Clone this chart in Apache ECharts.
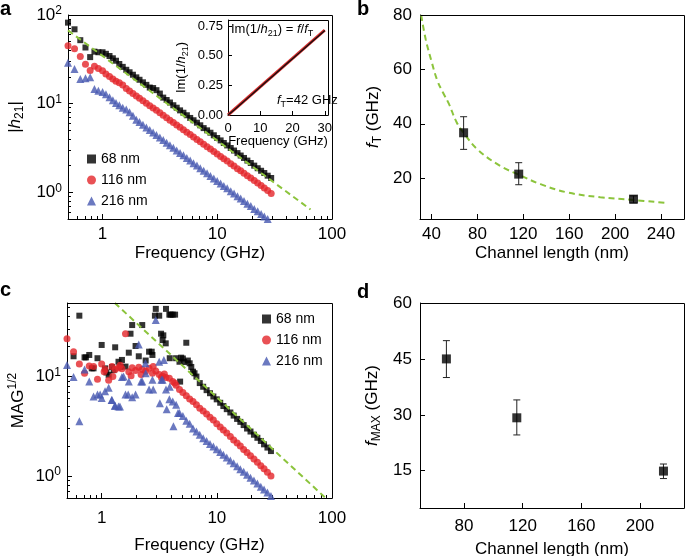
<!DOCTYPE html>
<html>
<head>
<meta charset="utf-8">
<script src="https://cdn.jsdelivr.net/npm/echarts@6/dist/echarts.min.js"></script>
<style>
  html, body { margin: 0; padding: 0; background: #fff; }
  #chart { width: 685px; height: 556px; }
</style>
</head>
<body>
<div id="chart"></div>
<script>
const FONT = '"Liberation Sans", Arial, sans-serif';
const BLACK = '#000000';
const RED = '#e3262a';
const BLUE = '#4658b0';
const GREEN = '#8cc43c';

const LEGEND_NAMES = ['68 nm', '116 nm', '216 nm'];

// frequency grid (GHz) shared by panels a and c
const FREQ = [0.5, 0.57, 0.64, 0.71, 0.78, 0.85, 0.92,
  1.0, 1.07, 1.15, 1.23, 1.31, 1.4, 1.5, 1.61, 1.72, 1.84, 1.97, 2.1, 2.25, 2.41, 2.58, 2.76, 2.95,
  3.16, 3.38, 3.62, 3.87, 4.14, 4.43, 4.74, 5.07, 5.43, 5.81, 6.21, 6.65, 7.11, 7.61, 8.15, 8.72,
  9.33, 9.98, 10.7, 11.4, 12.2, 13.1, 14.0, 15.0, 16.0, 17.1, 18.3, 19.6, 21.0, 22.5, 24.1, 25.7, 27.5, 29.5];

// panel a: |h21|
const A_68 = [82, 69, 52, 43, 33.5, 38.6, 38,
  38, 36.5, 34.5, 32.5, 30.5, 28, 26, 24.1, 22.6, 21.2, 19.8, 18.6, 17.4, 16.3, 15.2, 15, 14.2,
  13, 11.7, 11.0, 10.3, 9.6, 9.0, 8.4, 7.9, 7.4, 6.9, 6.5, 6.1, 5.7, 5.3, 5.0, 4.7,
  4.4, 4.1, 3.85, 3.6, 3.38, 3.16, 2.96, 2.77, 2.6, 2.44, 2.28, 2.14, 2.0, 1.87, 1.75, 1.65, 1.54, 1.45];
const A_116 = [45, 41.6, 34, 27.8, 23.7, 26.4, 25,
  23.5, 21.6, 20.2, 19.0, 17.9, 17.2, 16.2, 14.8, 13.9, 13.0, 12.2, 11.5, 10.8, 10.1, 9.5, 8.95, 8.4,
  7.9, 7.4, 6.95, 6.5, 6.14, 5.76, 5.41, 5.08, 4.77, 4.48, 4.21, 3.95, 3.71, 3.48, 3.27, 3.07,
  2.88, 2.71, 2.54, 2.39, 2.25, 2.10, 1.98, 1.85, 1.75, 1.64, 1.54, 1.45, 1.36, 1.27, 1.19, 1.12, 1.05, 0.97];
const A_216 = [29, 24.6, 19, 19.4, 19.9, 14.6, 14,
  13.5, 12.8, 11.8, 10.9, 10.2, 9.6, 9.0, 8.6, 8.0, 7.3, 6.6, 6.2, 5.8, 5.4, 5.05, 4.73, 4.43,
  4.14, 3.88, 3.63, 3.40, 3.18, 2.97, 2.78, 2.61, 2.44, 2.28, 2.13, 2.0, 1.87, 1.75, 1.64, 1.53,
  1.43, 1.34, 1.26, 1.18, 1.11, 1.03, 0.97, 0.905, 0.85, 0.80, 0.745, 0.70, 0.65, 0.61, 0.57, 0.535, 0.50, 0.47];
const A_FIT = [[0.5, 67], [65, 0.64]];

// inset: Im(1/h21) vs frequency
const INSET_F = [0, 2, 4, 6, 8, 10, 12, 14, 16, 18, 20, 22, 24, 26, 28, 30];
const INSET_IM = [0, 0.045, 0.092, 0.14, 0.188, 0.236, 0.284, 0.331, 0.379, 0.427, 0.474, 0.521, 0.569, 0.617, 0.664, 0.712];
const INSET_FIT_F = [0, 30];
const INSET_FIT_IM = [0, 0.714];

// panel b: fT vs channel length
const LEN = [68, 116, 216];
const FT = [36.7, 21.5, 12.3];
const FT_LO = [30.6, 17.6, 10.9];
const FT_HI = [42.6, 25.7, 13.5];
const FIT_LEN = [31, 35, 40, 45, 50, 55, 62, 68, 80, 100, 116, 135, 158, 187, 216, 244];
const FIT_FT = [80, 71, 63, 56, 51.5, 47.5, 40.5, 36.7, 30.6, 24.5, 21.3, 17.8, 14.8, 13.0, 12.0, 10.9];

// panel c: MAG^1/2
const C_68 = [null, 16, 41, 15.6, 16.5, 12.1, 15.3,
  20.8, 12.1, 10.4, 12.5, 19.7, 14.1, 14.7, 12.6, 17.4, 33, 20.3, 16, 33, 14.5, 17.8, 16.5, 48,
  41, 23.3, 48, 42, 42, 15.3, 14.1, 15.2, 21.9, 13.6, 11.2, 10, 8.6, 7.9, 7.3, 6.8,
  6.3, 5.9, 5.45, 5.05, 4.7, 4.35, 4.05, 3.75, 3.5, 3.25, 3.0, 2.8, 2.6, 2.42, 2.25, 2.08, 1.93, 1.78];
const C_68_EXTRA = [[0.73, 15.6], [0.82, 12.1], [1.1, 11], [1.27, 11.6], [1.45, 12.5], [1.78, 27], [2.72, 17.8],
  [2.9, 41], [3.28, 27], [3.43, 26], [3.6, 21.6], [3.9, 15.3], [3.97, 42], [4.34, 42], [4.8, 8.9],
  [4.9, 15.5], [5.2, 14], [5.6, 14.5], [6.0, 12.5], [6.4, 10.8]];
const C_116 = [24, 17.8, 13.4, 10.8, 12.8, 12.6, 9.4,
  13.4, 11.8, 9.2, 12.6, 11.8, 12.3, 12.0, 27, 11.2, 12.3, 11.5, 12.4, 11.8, 11.3, 12.1, 10.8, 11.4,
  10.5, 10.1, 9.8, 9.6, 8.9, 8.2, 7.4, 6.9, 6.4, 5.95, 5.6, 5.2, 4.8, 4.5, 4.2, 3.9,
  3.65, 3.35, 3.1, 2.9, 2.7, 2.5, 2.3, 2.15, 2.0, 1.85, 1.72, 1.6, 1.48, 1.37, 1.27, 1.18, 1.09, 1.0];
const C_116_EXTRA = [[1.05, 11.2], [1.25, 10], [1.45, 13], [1.8, 10.2], [2.2, 10.5], [2.8, 12.6], [3.3, 9.8], [3.5, 10.6], [4.3, 8.6]];
const C_216 = [13.1, 9.9, 3.55, 11.8, 8.9, 6.3, 6.6,
  6.1, 7.1, 7.7, 5.8, 5.1, 5.0, 9.9, 6.6, 8.9, 6.2, 6.6, 21, 8.9, 10.8, 7.4, 9.3, 37,
  14.1, 9.3, 7.4, 5.9, 5.6, 5.2, 4.3, 4.0, 3.6, 3.35, 3.0, 2.8, 2.6, 2.4, 2.25, 2.1,
  1.98, 1.86, 1.74, 1.63, 1.53, 1.43, 1.34, 1.25, 1.17, 1.1, 1.03, 0.96, 0.9, 0.84, 0.78, 0.73, 0.68, 0.63];
const C_216_EXTRA = [[0.97, 6.6], [1.22, 5.8], [1.3, 5.1], [1.44, 5.0], [1.55, 10], [1.7, 6.6], [2.2, 8.9], [2.4, 13.6],
  [2.8, 7.4], [3.2, 5.4], [3.3, 9.3], [3.47, 14.7], [3.67, 4.7], [3.9, 7.9], [4.2, 3.16], [4.6, 4.3]];
const C_FIT = [[1.3, 55], [88, 0.6]];

// panel d: fMAX vs channel length
const FMAX = [45, 29.2, 14.9];
const FMAX_LO = [40, 24.6, 12.9];
const FMAX_HI = [49.9, 34, 16.8];

// tick values
const LOG_MAJOR = [1, 10, 100];
const LOG_MINOR = [0.5, 0.6, 0.7, 0.8, 0.9, 2, 3, 4, 5, 6, 7, 8, 9, 20, 30, 40, 50, 60, 70, 80, 90];
const INSET_X_TICKS = [0, 10, 20, 30];
const INSET_Y_TICKS = [0, 0.25, 0.5, 0.75];
const B_X_TICKS = [40, 80, 120, 160, 200, 240];
const B_Y_TICKS = [20, 40, 60, 80];
const D_X_TICKS = [80, 120, 160, 200];
const D_Y_TICKS = [15, 30, 45, 60];

// top-left / top-right / bottom-right corners of a unit box, for the box outline
const BOX_EDGE = [[0, 1], [1, 1], [1, 0]];

const chart = echarts.init(document.getElementById('chart'), null, { renderer: 'canvas' });

const rich = (size) => ({
  i: { fontStyle: 'italic', fontSize: size, fontFamily: FONT, color: BLACK },
  sub: { fontSize: Math.round(size * 0.72), verticalAlign: 'bottom', lineHeight: Math.round(size * 0.72), fontFamily: FONT, color: BLACK },
  sup: { fontSize: Math.round(size * 0.72), verticalAlign: 'top', lineHeight: Math.round(size * 0.72), fontFamily: FONT, color: BLACK }
});

function mainAxis(grid, o) {
  return {
    gridIndex: grid,
    type: o.type,
    min: o.min,
    max: o.max,
    name: o.name || '',
    nameLocation: 'middle',
    nameGap: o.nameGap,
    nameRotate: o.nameRotate,
    nameMoveOverlap: false,
    nameTextStyle: { color: BLACK, fontSize: o.fs || 17, fontFamily: FONT, lineHeight: o.lh || 22, rich: rich(o.fs || 17) },
    axisLine: { onZero: false, lineStyle: { color: BLACK, width: 1 } },
    axisTick: { inside: true, length: o.tickLen || 5, customValues: o.ticks, lineStyle: { color: BLACK, width: 1 } },
    axisLabel: {
      customValues: o.ticks, margin: o.margin, color: BLACK, fontSize: o.fs || 17, fontFamily: FONT,
      formatter: o.formatter, lineHeight: 20, rich: rich(o.fs || 17)
    },
    splitLine: { show: false }
  };
}
function minorAxis(grid, min, max) {
  return {
    gridIndex: grid, type: 'log', min, max,
    axisLine: { show: false },
    axisTick: { inside: true, length: 3, customValues: LOG_MINOR, lineStyle: { color: BLACK, width: 1 } },
    axisLabel: { show: false },
    splitLine: { show: false }
  };
}
// invisible 0..1 axis for the outline grids
const hiddenAxis = grid => ({ gridIndex: grid, type: 'value', min: 0, max: 1, show: false });
const logLabel = v => '10{sup|' + Math.round(Math.log10(v)) + '}';

// plot boxes: a, a (minor ticks), inset, b, c, c (minor ticks), d
const BOXES = [
  { left: 68, top: 15, width: 264, height: 204 },
  { left: 68, top: 15, width: 264, height: 204 },
  { left: 228, top: 20, width: 100, height: 95 },
  { left: 420, top: 15, width: 264, height: 204 },
  { left: 67, top: 303, width: 265, height: 195 },
  { left: 67, top: 303, width: 265, height: 195 },
  { left: 420, top: 303, width: 264, height: 205 }
];
const FRAMED = [0, 2, 3, 4, 6];

// outline grids sit half a pixel in so their 1px lines fall on whole pixels
const OUTLINES = FRAMED.map(i => ({
  left: BOXES[i].left + 0.5, top: BOXES[i].top + 0.5, width: BOXES[i].width, height: BOXES[i].height
}));

const grids = BOXES.concat(OUTLINES).map((g, i) => Object.assign({
  outerBoundsMode: 'none', containLabel: false,
  show: i === 2, backgroundColor: '#fff', borderWidth: 0
}, g));

const xAxis = [
  mainAxis(0, { type: 'log', min: 0.5, max: 100, ticks: LOG_MAJOR, margin: 5, name: 'Frequency (GHz)', nameGap: 23 }),
  minorAxis(1, 0.5, 100),
  mainAxis(2, { type: 'value', min: 0, max: 31, ticks: INSET_X_TICKS, margin: 3, fs: 13, tickLen: 4, name: 'Frequency (GHz)', nameGap: 15 }),
  mainAxis(3, { type: 'value', min: 30, max: 260, ticks: B_X_TICKS, margin: 5, name: 'Channel length (nm)', nameGap: 23 }),
  mainAxis(4, { type: 'log', min: 0.5, max: 100, ticks: LOG_MAJOR, margin: 10, name: 'Frequency (GHz)', nameGap: 36 }),
  minorAxis(5, 0.5, 100),
  mainAxis(6, { type: 'value', min: 50, max: 230, ticks: D_X_TICKS, margin: 8, name: 'Channel length (nm)', nameGap: 30 })
].concat(OUTLINES.map((o, k) => hiddenAxis(BOXES.length + k)));

const yAxis = [
  mainAxis(0, { type: 'log', min: 0.5, max: 100, ticks: LOG_MAJOR, margin: 6, formatter: logLabel,
    name: '|{i|h}{sub|21}|', nameGap: 42, nameRotate: 90 }),
  minorAxis(1, 0.5, 100),
  mainAxis(2, { type: 'value', min: 0, max: 0.8, ticks: INSET_Y_TICKS, margin: 5, fs: 13, tickLen: 4, lh: 18,
    formatter: v => v.toFixed(2), name: 'Im(1/{i|h}{sub|21})', nameGap: 38, nameRotate: 90 }),
  mainAxis(3, { type: 'value', min: 5, max: 80, ticks: B_Y_TICKS, margin: 8,
    name: '{i|f}{sub|T} (GHz)', nameGap: 36, nameRotate: 90 }),
  mainAxis(4, { type: 'log', min: 0.6, max: 55, ticks: LOG_MAJOR, margin: 6, formatter: logLabel,
    name: 'MAG{sup|1/2}', nameGap: 38, nameRotate: 90 }),
  minorAxis(5, 0.6, 55),
  mainAxis(6, { type: 'value', min: 5, max: 60, ticks: D_Y_TICKS, margin: 8,
    name: '{i|f}{sub|MAX} (GHz)', nameGap: 37, nameRotate: 90 })
].concat(OUTLINES.map((o, k) => hiddenAxis(BOXES.length + k)));

const SYM = { '68 nm': ['rect', 6, BLACK], '116 nm': ['circle', 7, RED], '216 nm': ['triangle', 8, BLUE] };
function scatter(name, axis, data) {
  const s = SYM[name];
  return { name, type: 'scatter', xAxisIndex: axis, yAxisIndex: axis, symbol: s[0], symbolSize: s[1],
    itemStyle: { color: s[2] }, data, z: 2 };
}
const onGrid = vals => FREQ.map((f, i) => [f, vals[i]]);

function errorBar(params, api) {
  const x = api.value(0);
  const top = api.coord([x, api.value(2)]);
  const bot = api.coord([x, api.value(1)]);
  const w = 3.5;
  const st = { stroke: '#222', lineWidth: 1 };
  return {
    type: 'group',
    children: [
      { type: 'line', shape: { x1: top[0], y1: top[1], x2: bot[0], y2: bot[1] }, style: st },
      { type: 'line', shape: { x1: top[0] - w, y1: top[1], x2: top[0] + w, y2: top[1] }, style: st },
      { type: 'line', shape: { x1: bot[0] - w, y1: bot[1], x2: bot[0] + w, y2: bot[1] }, style: st }
    ]
  };
}

const dashed = { color: GREEN, width: 2, type: [6, 4] };

const series = [
  // a
  scatter('68 nm', 0, onGrid(A_68)),
  scatter('116 nm', 0, onGrid(A_116)),
  scatter('216 nm', 0, onGrid(A_216)),
  { type: 'line', xAxisIndex: 0, yAxisIndex: 0, data: A_FIT, symbol: 'none', lineStyle: dashed, z: 4 },
  // inset
  { type: 'line', xAxisIndex: 2, yAxisIndex: 2, data: INSET_FIT_F.map((f, i) => [f, INSET_FIT_IM[i]]),
    symbol: 'none', lineStyle: { color: '#d42a2a', width: 3 }, z: 3 },
  { type: 'line', xAxisIndex: 2, yAxisIndex: 2, data: INSET_F.map((f, i) => [f, INSET_IM[i]]),
    symbol: 'none', lineStyle: { color: '#111', width: 1.3 }, z: 4 },
  // b
  { type: 'line', xAxisIndex: 3, yAxisIndex: 3, data: FIT_LEN.map((l, i) => [l, FIT_FT[i]]), smooth: 0.4,
    symbol: 'none', lineStyle: dashed, z: 2 },
  { type: 'custom', xAxisIndex: 3, yAxisIndex: 3, renderItem: errorBar, encode: { x: 0, y: [1, 2] },
    data: LEN.map((l, i) => [l, FT_LO[i], FT_HI[i]]), z: 3 },
  { type: 'scatter', xAxisIndex: 3, yAxisIndex: 3, symbol: 'rect', symbolSize: 9, itemStyle: { color: BLACK },
    data: LEN.map((l, i) => [l, FT[i]]), z: 4 },
  // c
  scatter('68 nm', 4, onGrid(C_68).concat(C_68_EXTRA)),
  scatter('116 nm', 4, onGrid(C_116).concat(C_116_EXTRA)),
  scatter('216 nm', 4, onGrid(C_216).concat(C_216_EXTRA)),
  { type: 'line', xAxisIndex: 4, yAxisIndex: 4, data: C_FIT, symbol: 'none', lineStyle: dashed, z: 4 },
  // d
  { type: 'custom', xAxisIndex: 6, yAxisIndex: 6, renderItem: errorBar, encode: { x: 0, y: [1, 2] },
    data: LEN.map((l, i) => [l, FMAX_LO[i], FMAX_HI[i]]), z: 3 },
  { type: 'scatter', xAxisIndex: 6, yAxisIndex: 6, symbol: 'rect', symbolSize: 9, itemStyle: { color: BLACK },
    data: LEN.map((l, i) => [l, FMAX[i]]), z: 4 }
].concat(OUTLINES.map((o, k) => ({
  // top and right edges of each plot box
  type: 'line', xAxisIndex: BOXES.length + k, yAxisIndex: BOXES.length + k, data: BOX_EDGE,
  symbol: 'none', clip: false, silent: true, lineStyle: { color: BLACK, width: 1 }, z: 6
})));

const legendBase = {
  orient: 'vertical', itemWidth: 9, itemHeight: 9, itemGap: 7, selectedMode: false,
  textStyle: { fontSize: 14, fontFamily: FONT, color: BLACK }, data: LEGEND_NAMES
};

const letter = (t, x, y) => ({ type: 'text', left: x, top: y,
  style: { text: t, fontSize: 20, fontWeight: 'bold', fontFamily: FONT, fill: BLACK } });

const option = {
  animation: false,
  backgroundColor: '#fff',
  grid: grids,
  xAxis,
  yAxis,
  legend: [
    Object.assign({ left: 82, top: 147 }, legendBase),
    Object.assign({ left: 257, top: 307 }, legendBase)
  ],
  graphic: [
    letter('a', 0, -1), letter('b', 357, -1), letter('c', 0, 280), letter('d', 357, 282),
    { type: 'text', left: 231, top: 20, z: 10,
      style: { text: 'Im(1/{i|h}{sub|21}) = {i|f}/{i|f}{sub|T}', fontSize: 13, fontFamily: FONT, fill: BLACK,
        lineHeight: 18, rich: rich(13) } },
    { type: 'text', left: 277, top: 91, z: 10,
      style: { text: '{i|f}{sub|T}=42 GHz', fontSize: 13, fontFamily: FONT, fill: BLACK,
        lineHeight: 18, rich: rich(13) } }
  ],
  series
};
chart.setOption(option);
</script>
</body>
</html>
